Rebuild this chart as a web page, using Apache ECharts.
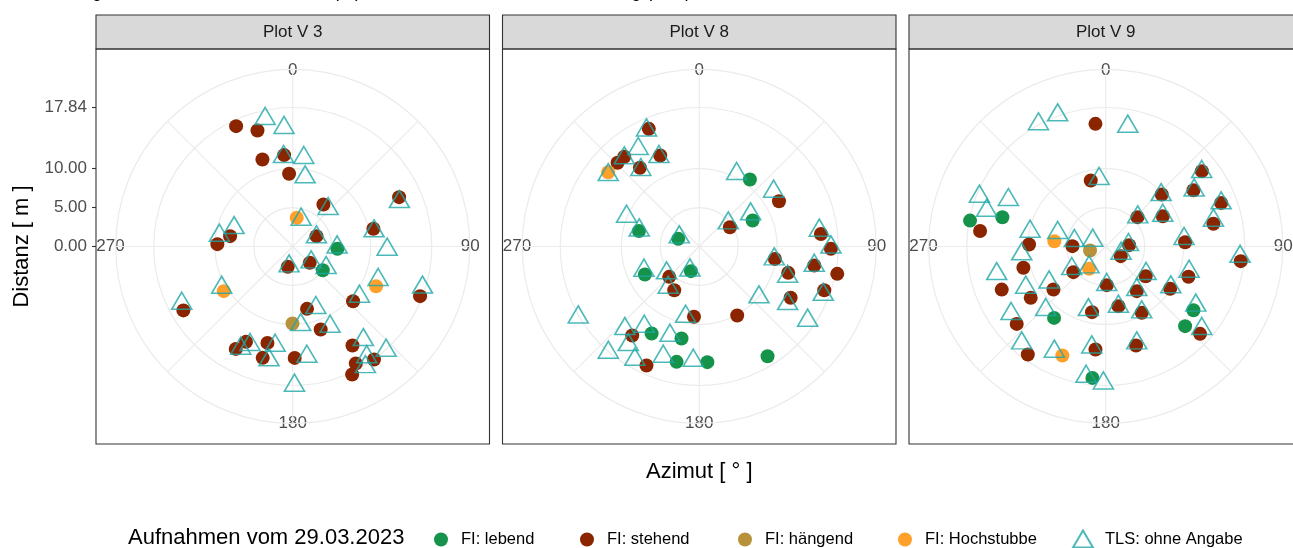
<!DOCTYPE html>
<html><head><meta charset="utf-8">
<script src="https://cdn.jsdelivr.net/npm/echarts@6/dist/echarts.min.js"></script>
<style>html,body{margin:0;padding:0;background:#fff}#chart{width:1293px;height:548px}</style>
</head><body><div id="chart"></div>
<script>
// ---------- data ----------
const plots = ['Plot V 3', 'Plot V 8', 'Plot V 9'];
const categories = ['FI: lebend', 'FI: stehend', 'FI: hängend', 'FI: Hochstubbe', 'TLS: ohne Angabe'];
const distTicks = [0, 5, 10, 17.84];
const azimutTicks = [0, 90, 180, 270];
const legendTitle = 'Aufnahmen vom 29.03.2023';
const plotTitle = 'Abgleich zwischen Forstinventur (FI) und Terrestrischem Laserscanning (TLS)';

// each point: [Azimut (°), Distanz (m)]
const v3_lebend = [[93.0,5.74],[128.3,4.91]];
const v3_stehend = [[334.8,17.07],[343.1,15.57],[340.8,11.83],[354.6,11.78],[357.1,9.34],[36.1,6.68],[65.1,15.05],[77.6,10.60],[66.4,3.32],[279.4,8.15],[271.8,9.68],[133.9,3.03],[193.8,2.69],[111.3,17.54],[132.2,10.45],[239.7,16.26],[167.1,8.21],[161.4,11.24],[148.9,14.84],[209.1,15.04],[206.1,13.63],[194.7,12.79],[195.1,14.80],[179.0,14.30],[144.3,17.87],[151.7,17.06],[155.1,18.11]];
const v3_haengend = [[180.2,9.88]];
const v3_hochstubbe = [[7.9,3.72],[115.5,11.85],[237.1,10.55]];
const v3_tls = [[347.8,16.77],[355.8,15.28],[354.1,11.57],[7.1,11.47],[10.1,9.04],[43.2,6.63],[67.3,14.84],[17.2,3.63],[79.3,10.62],[91.8,12.12],[68.5,3.27],[278.5,9.52],[287.6,7.90],[90.9,5.69],[130.5,3.10],[190.6,2.57],[122.6,5.08],[111.3,11.76],[240.0,10.53],[107.5,17.46],[242.8,16.02],[126.9,10.70],[159.4,8.41],[174.2,10.11],[155.0,11.33],[142.9,15.03],[138.1,17.94],[207.0,14.70],[203.5,13.76],[190.1,12.91],[191.8,14.90],[172.7,14.24],[146.2,17.06],[148.9,18.05],[179.3,17.84]];

const v8_lebend = [[37.1,10.78],[64.0,7.62],[284.3,7.99],[290.0,2.87],[242.7,7.85],[198.7,3.34],[208.7,12.73],[190.9,12.03],[191.1,15.09],[176.0,14.88],[148.1,16.59]];
const v8_stehend = [[336.8,16.43],[315.7,15.01],[320.1,15.01],[336.8,12.71],[323.0,12.65],[60.4,11.77],[57.8,4.65],[84.1,15.70],[91.0,16.90],[99.3,9.84],[99.4,14.96],[106.5,11.91],[101.2,18.06],[109.3,17.00],[119.3,13.45],[151.2,10.11],[184.3,9.05],[224.7,5.48],[209.8,6.46],[217.0,14.30],[203.9,16.71]];
const v8_haengend = [];
const v8_hochstubbe = [[309.2,15.08]];
const v8_tls = [[335.6,16.39],[328.0,14.78],[319.7,14.87],[335.8,12.62],[322.7,12.37],[308.2,14.87],[27.2,10.49],[53.5,11.87],[292.4,10.09],[285.2,7.98],[295.0,2.83],[51.2,4.78],[57.8,7.79],[82.4,15.54],[90.3,16.90],[99.6,9.76],[99.4,14.96],[108.8,11.98],[246.6,7.74],[230.8,5.41],[201.5,3.27],[217.1,6.60],[111.2,17.07],[123.0,13.52],[130.3,10.05],[124.3,16.84],[239.7,17.99],[191.0,9.16],[222.1,14.24],[214.5,12.46],[198.2,12.03],[215.8,15.57],[220.6,17.93],[209.7,16.69],[198.1,14.86],[183.0,14.66]];

const v9_lebend = [[280.8,17.73],[285.8,13.79],[215.9,11.31],[126.0,13.91],[135.1,14.43],[185.8,16.95]];
const v9_stehend = [[355.2,15.80],[347.2,8.69],[51.9,15.67],[57.3,13.38],[47.1,9.81],[69.3,15.83],[47.2,5.54],[62.0,8.29],[78.1,14.12],[277.0,16.25],[271.5,9.85],[270.6,4.28],[86.7,3.00],[122.8,2.29],[86.9,10.20],[96.2,17.43],[255.5,10.92],[231.6,5.30],[126.6,6.39],[110.1,11.30],[178.5,4.96],[247.5,14.45],[230.6,8.69],[235.6,11.67],[145.2,6.98],[123.3,9.89],[168.0,7.83],[191.8,8.61],[151.5,9.69],[229.0,15.14],[132.8,16.50],[215.8,17.10],[185.7,13.29],[163.0,13.29]];
const v9_haengend = [[255.7,2.08]];
const v9_hochstubbe = [[275.9,6.63],[216.7,3.58],[201.7,15.06]];
const v9_tls = [[331.2,17.93],[339.9,17.95],[10.4,15.66],[354.4,8.73],[52.1,15.61],[57.5,13.45],[47.0,9.72],[69.4,15.82],[47.5,5.57],[61.5,8.33],[76.4,14.22],[291.6,17.44],[295.6,13.86],[286.8,15.96],[281.2,9.90],[285.9,6.41],[280.3,4.09],[294.8,1.84],[264.8,10.83],[85.8,2.92],[114.5,2.16],[84.4,10.10],[94.3,17.29],[255.9,14.43],[236.7,5.22],[218.9,3.41],[124.1,6.25],[106.7,11.17],[242.9,11.54],[237.8,8.60],[178.5,4.92],[144.4,6.84],[122.0,9.84],[234.6,14.91],[223.5,11.20],[195.3,8.43],[168.1,7.87],[151.3,9.61],[123.2,13.81],[130.6,16.23],[221.0,16.44],[206.1,15.00],[187.9,13.05],[162.2,13.03],[188.6,16.88],[181.0,17.55]];

const plotData = [
  [v3_lebend, v3_stehend, v3_haengend, v3_hochstubbe, v3_tls],
  [v8_lebend, v8_stehend, v8_haengend, v8_hochstubbe, v8_tls],
  [v9_lebend, v9_stehend, v9_haengend, v9_hochstubbe, v9_tls]
];

// ---------- styling / layout ----------
const FONT = 'Liberation Sans, Arial, sans-serif';
const colors = ['#16934A', '#8B2500', '#B8913B', '#FFA02A', '#1FA8A6'];
const panelLeft = [96, 502.5, 909];
const panelW = 393.5, panelTop = 49, panelH = 395;
const stripTop = 15, stripH = 34;
const cy = panelTop + panelH / 2;
const R = 0.45 * panelW;              // outer ring (ggplot 0.45)
const pxPerUnit = 139 / 17.84;
const RMAX = R / pxPerUnit;
const TXT = 17, TITLE = 22;

const chart = echarts.init(document.getElementById('chart'), null, {renderer: 'canvas'});

const polar = [], angleAxis = [], radiusAxis = [], series = [], graphic = [];
plots.forEach((p, i) => {
  const cx = panelLeft[i] + panelW / 2;
  polar.push({center: [cx, cy], radius: R});
  angleAxis.push({
    polarIndex: i, type: 'value', min: 0, max: 360, interval: 45, startAngle: 90, clockwise: true,
    axisLine: {show: true, lineStyle: {color: '#EBEBEB', width: 1.2}},
    axisTick: {show: false},
    splitLine: {show: true, lineStyle: {color: '#EBEBEB', width: 1.1}},
    axisLabel: {
      show: true, margin: -9, color: '#4D4D4D', fontFamily: FONT, fontSize: TXT,
      formatter: v => (azimutTicks.indexOf(v) >= 0 ? String(v) : '')
    }
  });
  radiusAxis.push({
    polarIndex: i, type: 'value', min: 0, max: RMAX,
    axisLine: {show: false}, axisLabel: {show: false},
    axisTick: {show: false, customValues: distTicks.filter(v => v > 0)},
    splitLine: {show: true, lineStyle: {color: '#EBEBEB', width: 1.2}}
  });
  categories.forEach((c, k) => {
    const isTri = k === 4;
    series.push({
      name: c, type: 'scatter', coordinateSystem: 'polar', polarIndex: i,
      symbol: isTri ? 'triangle' : 'circle',
      symbolSize: isTri ? [20, 17] : 14,
      symbolOffset: isTri ? [0, -2.8] : [0, 0],
      itemStyle: isTri
        ? {color: 'rgba(255,255,255,0)', borderColor: colors[k], borderWidth: 1.6}
        : {color: colors[k], opacity: 1},
      z: isTri ? 3 : 2,
      silent: true,
      data: plotData[i][k].map(d => [d[1], d[0]])
    });
  });
  // strip + panel border
  graphic.push({type: 'rect', shape: {x: panelLeft[i], y: stripTop, width: panelW, height: stripH},
    style: {fill: '#D9D9D9', stroke: '#333333', lineWidth: 1.1}, z: 1});
  graphic.push({type: 'text', x: panelLeft[i] + panelW / 2, y: stripTop + stripH / 2,
    style: {text: p, fill: '#1A1A1A', font: TXT + 'px ' + FONT, align: 'center', verticalAlign: 'middle'}, z: 2});
  graphic.push({type: 'rect', shape: {x: panelLeft[i], y: panelTop, width: panelW, height: panelH},
    style: {fill: 'none', stroke: '#333333', lineWidth: 1.1}, z: 10});
});

// axis titles, plot title (cut off at the top edge), legend title
graphic.push({type: 'text', x: 22, y: cy, rotation: Math.PI / 2,
  style: {text: 'Distanz [ m ]', fill: '#000', font: TITLE + 'px ' + FONT, align: 'center', verticalAlign: 'middle'}});
graphic.push({type: 'text', x: panelLeft[1] + panelW / 2, y: 472,
  style: {text: 'Azimut [ ° ]', fill: '#000', font: TITLE + 'px ' + FONT, align: 'center', verticalAlign: 'middle'}});
graphic.push({type: 'text', x: 70, y: 1,
  style: {text: plotTitle, fill: '#000', font: '18px ' + FONT, align: 'left', verticalAlign: 'bottom'}});
graphic.push({type: 'text', x: 128, y: 538,
  style: {text: legendTitle, fill: '#000', font: TITLE + 'px ' + FONT, align: 'left', verticalAlign: 'middle'}});

// one legend per key, placed individually
const legendIconCenters = [441, 587, 745, 905, 1083];
const legend = categories.map((c, k) => (k < 4 ? {
  data: [c], left: legendIconCenters[k] - 7, top: 531, padding: 0,
  orient: 'horizontal', itemWidth: 30, itemHeight: 14, selectedMode: false,
  textStyle: {fontFamily: FONT, fontSize: 16.5, color: '#000'}
} : {
  data: [c], left: legendIconCenters[k] - 11, top: 529.5, padding: 0,
  orient: 'horizontal', itemWidth: 20, itemHeight: 17, selectedMode: false,
  textStyle: {fontFamily: FONT, fontSize: 16.5, color: '#000', padding: [0, 0, 0, 7]}
}));

chart.setOption({
  animation: false,
  backgroundColor: '#fff',
  polar, angleAxis, radiusAxis,
  grid: [{left: panelLeft[0], top: cy - R, width: 1, height: R}],
  xAxis: [{gridIndex: 0, type: 'value', show: false}],
  yAxis: [{
    gridIndex: 0, type: 'value', min: 0, max: RMAX, position: 'left',
    axisLine: {show: false}, splitLine: {show: false},
    axisTick: {show: true, length: 4, lineStyle: {color: '#333333', width: 1.1}, customValues: distTicks},
    axisLabel: {show: true, margin: 9, color: '#4D4D4D', fontFamily: FONT, fontSize: TXT,
      customValues: distTicks, formatter: v => v.toFixed(2)}
  }],
  legend,
  series,
  graphic
});
</script></body></html>
